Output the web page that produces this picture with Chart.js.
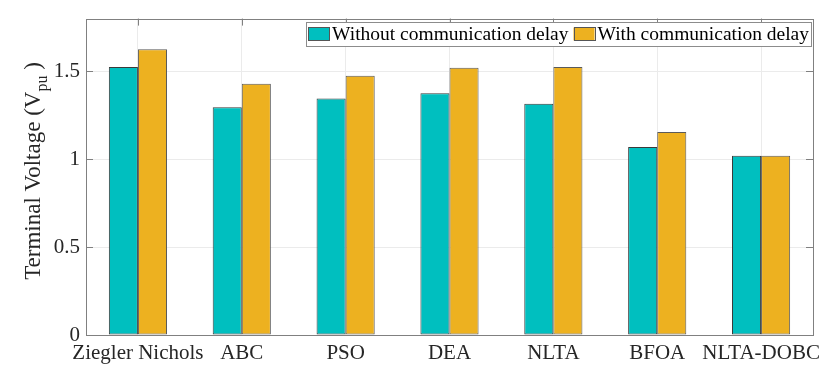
<!DOCTYPE html>
<html>
<head>
<meta charset="utf-8">
<script src="https://cdn.jsdelivr.net/npm/chart.js@4.4.0/dist/chart.umd.min.js"></script>
<style>
	html, body { margin: 0; padding: 0; background: #fff; }
	#wrap { width: 830px; height: 380px; }
</style>
</head>
<body>
<div id="wrap"><canvas id="barChart" width="830" height="380"></canvas></div>
<script>
// data
const methods = ['Ziegler Nichols', 'ABC', 'PSO', 'DEA', 'NLTA', 'BFOA', 'NLTA-DOBC'];
const withoutDelay = [1.525, 1.295, 1.345, 1.375, 1.315, 1.07, 1.02];
const withDelay = [1.625, 1.43, 1.475, 1.52, 1.525, 1.155, 1.02];
const yTicks = [0, 0.5, 1, 1.5];
const seriesNames = ['Without communication delay', 'With communication delay'];

const FONT = '"Liberation Serif", "DejaVu Serif", serif';
const axisColor = '#808080';

// y title with subscript, drawn by hand
const yTitlePlugin = {
	id: 'yTitle',
	afterDraw(chart) {
		const ctx = chart.ctx;
		ctx.save();
		ctx.fillStyle = '#262626';
		ctx.textBaseline = 'alphabetic';
		ctx.textAlign = 'left';
		const big = '23px ' + FONT, small = '16px ' + FONT;
		const p1 = 'Terminal Voltage (V', p2 = 'pu', p3 = ' )';
		ctx.font = big; const w1 = ctx.measureText(p1).width; const w3 = ctx.measureText(p3).width;
		ctx.font = small; const w2 = ctx.measureText(p2).width;
		const total = w1 + w2 + w3;
		ctx.translate(40, 171 + total / 2);
		ctx.rotate(-Math.PI / 2);
		ctx.font = big; ctx.fillText(p1, 0, 0);
		ctx.font = small; ctx.fillText(p2, w1, 7);
		ctx.font = big; ctx.fillText(p3, w1 + w2, 0);
		ctx.restore();
	}
};

// MATLAB style box, inward ticks and legend
const boxPlugin = {
	id: 'box',
	afterDatasetsDraw(chart) {
		const ctx = chart.ctx;
		const a = chart.chartArea;
		const y = chart.scales.y, x = chart.scales.x;
		ctx.save();
		ctx.strokeStyle = axisColor;
		ctx.lineWidth = 1;
		ctx.beginPath();
		yTicks.forEach(v => {
			const py = Math.round(y.getPixelForValue(v)) + 0.5;
			ctx.moveTo(a.left, py); ctx.lineTo(a.left + 7, py);
			ctx.moveTo(a.right, py); ctx.lineTo(a.right - 7, py);
		});
		methods.forEach((m, i) => {
			const px = Math.round(x.getPixelForValue(i)) + 0.5;
			ctx.moveTo(px, a.top); ctx.lineTo(px, a.top + 7);
		});
		ctx.stroke();
		ctx.strokeRect(Math.round(a.left) + 0.5, Math.round(a.top) + 0.5, Math.round(a.right - a.left), Math.round(a.bottom - a.top));

		// legend
		ctx.font = '19.5px ' + FONT;
		const sw = 21, sh = 13, gap = 3, pad = 2;
		let wTot = pad;
		const ds = chart.data.datasets;
		ds.forEach((d, i) => { wTot += sw + gap + ctx.measureText(d.label).width + (i < ds.length - 1 ? 5 : pad); });
		const lx = Math.round(a.right) - 2 - wTot, ly = 22, lh = 24;
		ctx.fillStyle = '#fff';
		ctx.fillRect(lx, ly, wTot, lh);
		ctx.strokeStyle = '#8c8c8c';
		ctx.strokeRect(Math.round(lx) + 0.5, ly + 0.5, Math.round(wTot), lh);
		let cx = lx + pad;
		ctx.textBaseline = 'middle';
		ds.forEach((d, i) => {
			ctx.fillStyle = d.backgroundColor;
			ctx.fillRect(cx, ly + 5.5, sw, sh);
			ctx.strokeStyle = '#555';
			ctx.strokeRect(Math.round(cx) + 0.5, ly + 5.5, sw, sh);
			cx += sw + gap;
			ctx.fillStyle = '#000';
			ctx.fillText(d.label, cx, ly + lh / 2 + 1);
			cx += ctx.measureText(d.label).width + 5;
		});
		ctx.restore();
	}
};

new Chart(document.getElementById('barChart').getContext('2d'), {
	type: 'bar',
	data: {
		labels: methods,
		datasets: [{
			label: seriesNames[0],
			data: withoutDelay,
			backgroundColor: 'rgb(0, 191, 191)',
			borderColor: '#3a3a3a',
			borderWidth: 1,
			borderSkipped: false
		}, {
			label: seriesNames[1],
			data: withDelay,
			backgroundColor: 'rgb(237, 177, 32)',
			borderColor: '#5a5a5a',
			borderWidth: 1,
			borderSkipped: false
		}]
	},
	options: {
		responsive: false,
		animation: false,
		layout: { padding: { top: 13, right: 17, left: 0, bottom: 0 } },
		plugins: { legend: { display: false }, tooltip: { enabled: false } },
		datasets: { bar: { categoryPercentage: 0.56, barPercentage: 1.0 } },
		scales: {
			x: {
				afterFit(scale) { scale.height = 45; },
				grid: { offset: false, color: '#ebebeb', drawTicks: false },
				border: { display: false },
				ticks: { color: '#262626', font: { family: FONT, size: 21 }, padding: 6, maxRotation: 0, autoSkip: false }
			},
			y: {
				min: 0,
				max: 1.8,
				afterBuildTicks(scale) { scale.ticks = yTicks.map(v => ({ value: v })); },
				afterFit(scale) { scale.width = 86; },
				grid: { color: '#ebebeb', drawTicks: false },
				border: { display: false },
				ticks: { color: '#262626', font: { family: FONT, size: 21 }, padding: 6, callback: v => String(v) }
			}
		}
	},
	plugins: [yTitlePlugin, boxPlugin]
});
</script>
</body>
</html>
